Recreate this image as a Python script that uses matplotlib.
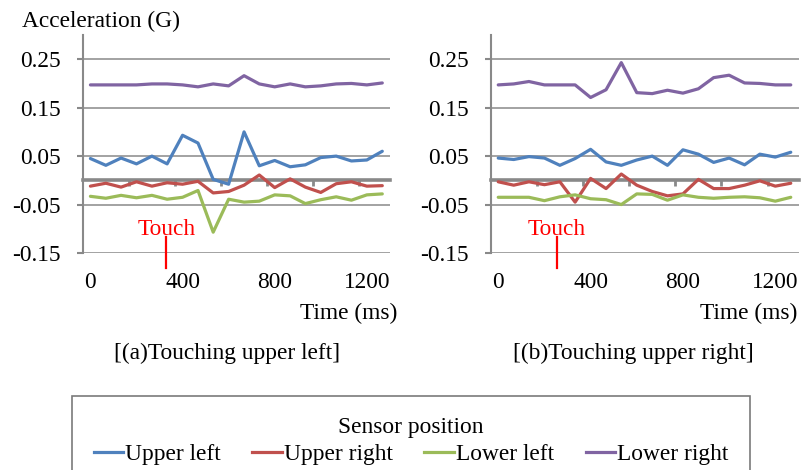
import matplotlib
matplotlib.use("Agg")
import matplotlib.pyplot as plt
from matplotlib.lines import Line2D
from matplotlib.patches import Rectangle

plt.rcParams['font.family'] = ['Liberation Serif', 'DejaVu Serif']
FS = 16.8

# ---------------- data ----------------
time_ms = [0, 67, 133, 200, 267, 333, 400, 467, 533, 600,
           667, 733, 800, 867, 933, 1000, 1067, 1133, 1200, 1267]
series_names = ['Upper left', 'Upper right', 'Lower left', 'Lower right']
colors = ['#4F81BD', '#C0504D', '#9BBB59', '#8064A2']

# (a) Touching upper left
a_upper_left = [0.045, 0.031, 0.046, 0.034, 0.050, 0.034, 0.093, 0.077, 0.002, -0.008,
                0.100, 0.030, 0.041, 0.028, 0.032, 0.047, 0.050, 0.040, 0.042, 0.060]
a_upper_right = [-0.012, -0.006, -0.014, -0.003, -0.012, -0.005, -0.008, -0.002, -0.026, -0.023,
                 -0.010, 0.011, -0.015, 0.003, -0.014, -0.025, -0.007, -0.003, -0.012, -0.011]
a_lower_left = [-0.033, -0.037, -0.031, -0.036, -0.031, -0.039, -0.035, -0.021, -0.107, -0.039,
                -0.045, -0.043, -0.030, -0.032, -0.048, -0.040, -0.034, -0.041, -0.030, -0.028]
a_lower_right = [0.197, 0.197, 0.197, 0.197, 0.199, 0.199, 0.197, 0.193, 0.199, 0.195,
                 0.216, 0.199, 0.193, 0.199, 0.193, 0.195, 0.199, 0.200, 0.197, 0.201]

# (b) Touching upper right
b_upper_left = [0.046, 0.043, 0.049, 0.046, 0.031, 0.045, 0.064, 0.038, 0.031, 0.042,
                0.050, 0.031, 0.063, 0.054, 0.037, 0.046, 0.032, 0.054, 0.048, 0.058]
b_upper_right = [-0.003, -0.010, -0.003, -0.009, -0.003, -0.045, 0.004, -0.017, 0.013, -0.010,
                 -0.023, -0.032, -0.028, 0.002, -0.017, -0.017, -0.010, -0.001, -0.012, -0.006]
b_lower_left = [-0.035, -0.035, -0.035, -0.042, -0.034, -0.030, -0.038, -0.040, -0.050, -0.028,
                -0.029, -0.041, -0.030, -0.035, -0.037, -0.035, -0.034, -0.036, -0.043, -0.035]
b_lower_right = [0.197, 0.199, 0.204, 0.197, 0.197, 0.197, 0.171, 0.187, 0.243, 0.181,
                 0.179, 0.186, 0.180, 0.189, 0.212, 0.217, 0.201, 0.200, 0.197, 0.197]

y_ticks = [-0.15, -0.05, 0.05, 0.15, 0.25]
y_tick_labels = ['-0.15', '-0.05', '0.05', '0.15', '0.25']
x_label_ticks = time_ms[::6]
x_tick_labels = ['0', '400', '800', '1200']

touch_a = 330
touch_b = 255
captions = ['[(a)Touching upper left]', '[(b)Touching upper right]']

# ---------------- figure ----------------
W, H = 801, 470
fig = plt.figure(figsize=(W / 100, H / 100), dpi=100)

GRAY = '#898989'

def px_rect(x0, x1, ytop, ybot):
    return [x0 / W, 1 - ybot / H, (x1 - x0) / W, (ybot - ytop) / H]

ax_a = fig.add_axes(px_rect(82.7, 390, 35, 253))
ax_b = fig.add_axes(px_rect(490.5, 798.5, 35, 253))

step = time_ms[1] - time_ms[0]
boundaries = [(time_ms[i - 1] + time_ms[i]) / 2 for i in range(3, len(time_ms), 3)]


def setup(ax, data, touch):
    for vals, c in zip(data, colors):
        ax.plot(time_ms, vals, color=c, lw=2.3, solid_joinstyle='round',
                solid_capstyle='round', zorder=3)
    ax.set_xlim(time_ms[0] - step / 2, time_ms[-1] + step / 2)
    ax.set_ylim(-0.15, 0.30)
    ax.set_yticks(y_ticks)
    ax.set_yticklabels(y_tick_labels)
    ax.yaxis.grid(True, color=GRAY, lw=1.1)
    ax.set_axisbelow(True)
    for s in ['top', 'right']:
        ax.spines[s].set_visible(False)
    ax.spines['left'].set_color(GRAY)
    ax.spines['left'].set_linewidth(1.5)
    ax.spines['bottom'].set_position(('data', 0))
    ax.spines['bottom'].set_color(GRAY)
    ax.spines['bottom'].set_linewidth(2.6)
    ax.set_xticks(boundaries)
    ax.tick_params(axis='x', length=4.5, width=2, color=GRAY, labelbottom=False,
                   direction='out')
    ax.tick_params(axis='y', length=4, width=1.5, color=GRAY, labelsize=FS, pad=12)
    sec = ax.secondary_xaxis(0)
    sec.set_xticks(x_label_ticks)
    sec.set_xticklabels(x_tick_labels)
    sec.tick_params(length=0, pad=14, labelsize=FS)
    sec.spines['bottom'].set_visible(False)
    # touch marker
    ax.plot([touch, touch], [-0.1175, -0.181], color='red', lw=1.6,
            clip_on=False, zorder=4)
    ax.text(touch, -0.1134, 'Touch', color='red', fontsize=FS,
            ha='center', va='baseline')


setup(ax_a, [a_upper_left, a_upper_right, a_lower_left, a_lower_right], touch_a)
setup(ax_b, [b_upper_left, b_upper_right, b_lower_left, b_lower_right], touch_b)

fig.text(21.7 / W, 1 - 27 / H, 'Acceleration (G)', fontsize=FS, ha='left', va='baseline')
fig.text(397 / W, 1 - 319 / H, 'Time (ms)', fontsize=FS, ha='right', va='baseline')
fig.text(797 / W, 1 - 319 / H, 'Time (ms)', fontsize=FS, ha='right', va='baseline')
fig.text(227 / W, 1 - 359 / H, captions[0], fontsize=FS, ha='center', va='baseline')
fig.text(633 / W, 1 - 359 / H, captions[1], fontsize=FS, ha='center', va='baseline')

# legend box
fig.patches.append(Rectangle((71.7 / W, -0.05), (750 - 71.7) / W, (1 - 395.7 / H) + 0.05,
                             transform=fig.transFigure, fill=False,
                             edgecolor='#7a7a7a', lw=1.2))
handles = [Line2D([0], [0], color=c, lw=2.3) for c in colors]
fig.legend(handles, series_names, loc='upper center', bbox_to_anchor=(411 / W, 1 - 405 / H),
           ncol=4, title='Sensor position', fontsize=FS, title_fontsize=FS,
           frameon=False, handlelength=1.25, handletextpad=0.1, columnspacing=1.35,
           borderpad=0, labelspacing=0.25)

fig.savefig('out.png', dpi=100)
